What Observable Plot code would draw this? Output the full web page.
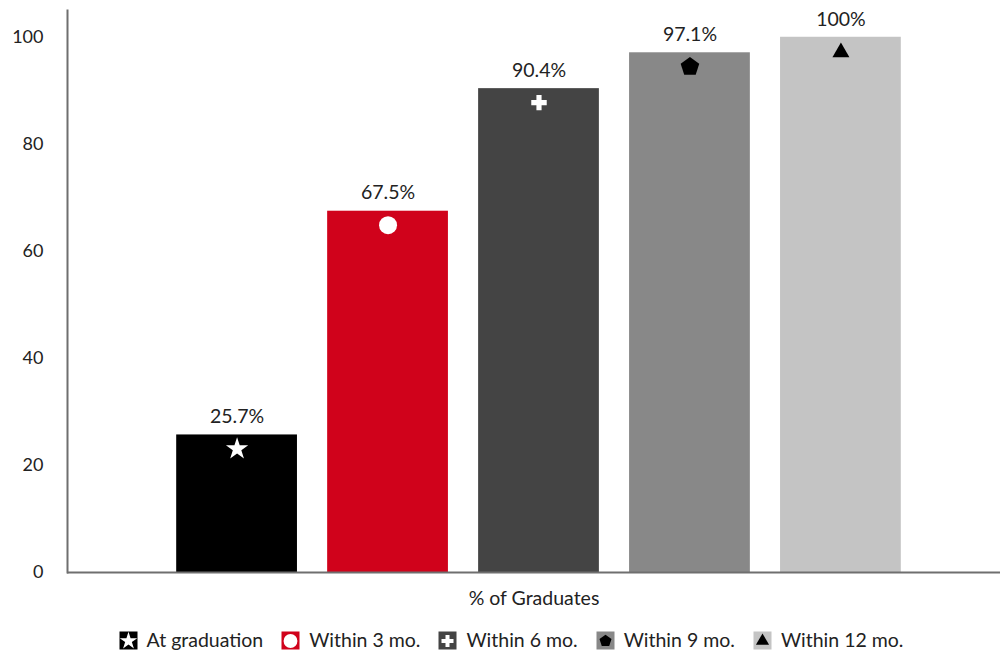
<!DOCTYPE html>
<html>
<head>
<meta charset="utf-8">
<script src="https://cdn.jsdelivr.net/npm/d3@7"></script>
<script src="https://cdn.jsdelivr.net/npm/@observablehq/plot@0.6"></script>
<style>
  body { margin: 0; background: #fff; font-family: Lato, "Open Sans", sans-serif; overflow: hidden; }
  #legend { display: flex; justify-content: center; align-items: center; height: 30px; padding-top: 10px; font-size: 19.5px; line-height: 1; color: #222; margin-left: 22px; }
  .item { display: flex; align-items: center; margin: 0 9px; }
  .item svg { margin-right: 9px; }
</style>
</head>
<body>
<div id="chart"></div>
<div id="legend"></div>
<script>
const categories = ["At graduation", "Within 3 mo.", "Within 6 mo.", "Within 9 mo.", "Within 12 mo."];
const values = [25.7, 67.5, 90.4, 97.1, 100];
const barColors = ["#000000", "#d0021b", "#444444", "#888888", "#c4c4c4"];
const markerColors = ["#ffffff", "#ffffff", "#ffffff", "#000000", "#000000"];
const yTicks = [0, 20, 40, 60, 80, 100];
const axisLabel = "% of Graduates";

const pentagon = {
  draw(context, size) {
    const r = Math.sqrt(size / 2.378);
    for (let i = 0; i < 5; i++) {
      const a = -Math.PI / 2 + i * 2 * Math.PI / 5;
      const x = r * Math.cos(a), y = r * Math.sin(a);
      if (i === 0) context.moveTo(x, y); else context.lineTo(x, y);
    }
    context.closePath();
  }
};
const symbols = ["star", "circle", "cross", pentagon, "triangle"];
const symbolR = [7, 9, 6.5, 8.5, 6.3];
const symbolDy = [14, 14, 14, 14, 15];
const d3Symbols = [d3.symbolStar, d3.symbolCircle, d3.symbolCross, pentagon, d3.symbolTriangle];
const legendSymbolSize = [95, 150, 80, 95, 75];

const data = categories.map((c, i) => ({category: c, value: values[i], color: barColors[i], label: values[i] + "%"}));

const chart = Plot.plot({
  width: 1000,
  height: 615,
  marginLeft: 67,
  marginRight: 0,
  marginTop: 10,
  marginBottom: 43,
  style: {fontFamily: "Lato, sans-serif", fontSize: "17px", color: "#222"},
  x: {domain: categories, range: [146, 931], padding: 0.2, round: false},
  y: {domain: [0, 105]},
  marks: [
    Plot.barY(data, {x: "category", y: "value", fill: "color"}),
    ...data.map((d, i) => Plot.dot([d], {x: "category", y: "value", dy: symbolDy[i], symbol: symbols[i], r: symbolR[i], fill: markerColors[i], stroke: null})),
    Plot.text(data, {x: "category", y: "value", text: "label", dy: -18, fontSize: 19.5, fill: "#222"}),
    Plot.axisY({ticks: yTicks, tickSize: 0, tickPadding: 24, label: null, fontSize: 18}),
    Plot.axisX({tickSize: 0, tickFormat: () => "", label: axisLabel, labelAnchor: "center", labelOffset: 32, fontSize: 19.5}),
    Plot.ruleY([0], {stroke: "#6f6f6f", strokeWidth: 2}),
    Plot.frame({anchor: "left", stroke: "#6f6f6f", strokeWidth: 2})
  ]
});
document.getElementById("chart").appendChild(chart);

const legend = document.getElementById("legend");
categories.forEach((c, i) => {
  const item = document.createElement("div");
  item.className = "item";
  const svg = d3.create("svg").attr("width", 19).attr("height", 19);
  svg.append("rect").attr("x", 0.5).attr("y", 0.5).attr("width", 18).attr("height", 18).attr("fill", barColors[i]);
  svg.append("path").attr("transform", "translate(9.5,10)")
    .attr("d", d3.symbol(d3Symbols[i], legendSymbolSize[i])())
    .attr("fill", markerColors[i]);
  item.appendChild(svg.node());
  const span = document.createElement("span");
  span.textContent = c;
  item.appendChild(span);
  legend.appendChild(item);
});
</script>
</body>
</html>
